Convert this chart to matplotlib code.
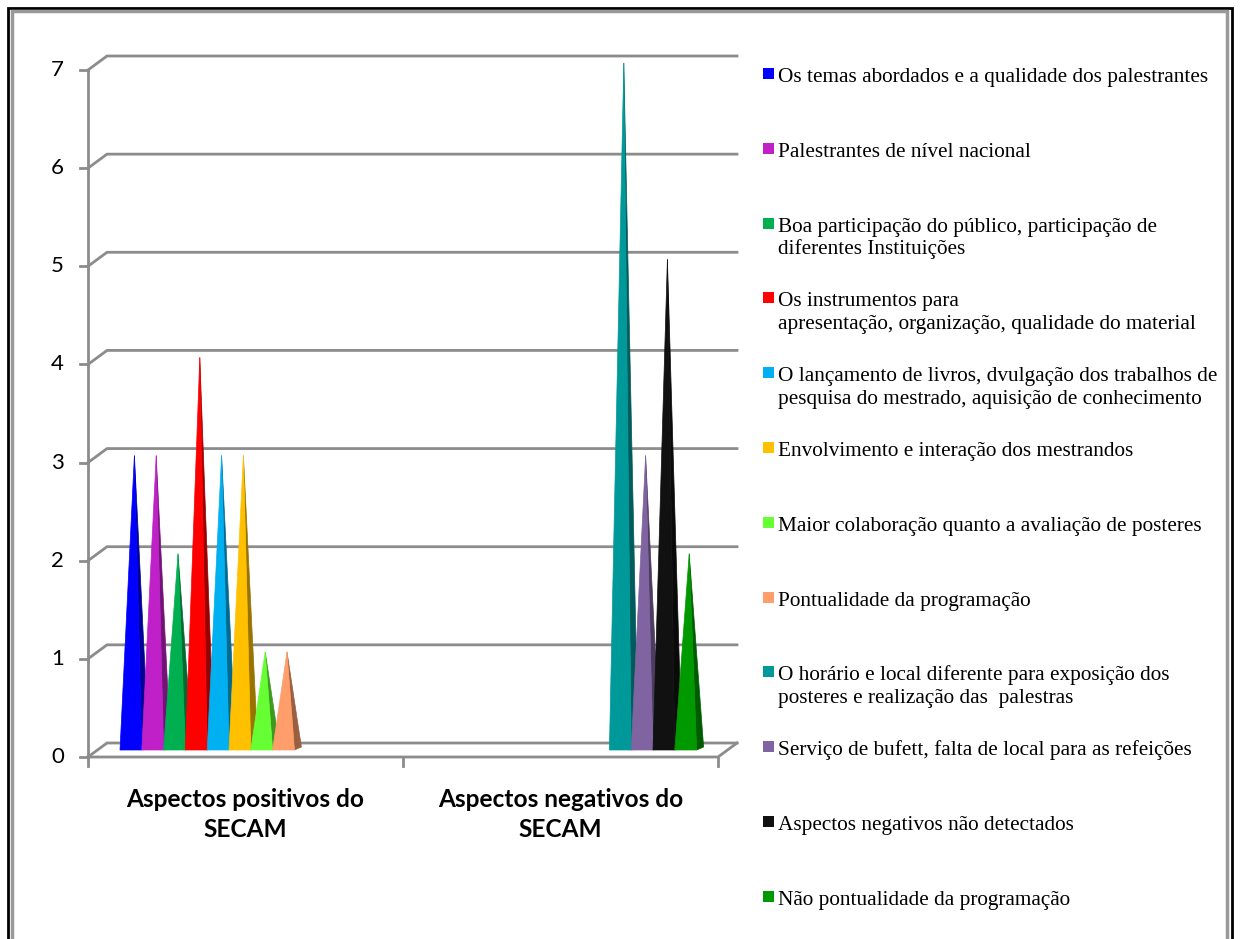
import matplotlib
matplotlib.use("Agg")
import matplotlib.pyplot as plt
from matplotlib.patches import Polygon, Rectangle
from matplotlib.colors import to_rgb
from matplotlib.lines import Line2D

# ---------------- data ----------------
categories = ["Aspectos positivos do\nSECAM", "Aspectos negativos do\nSECAM"]
series_labels = [
    "Os temas abordados e a qualidade dos palestrantes",
    "Palestrantes de nível nacional",
    "Boa participação do público, participação de\ndiferentes Instituições",
    "Os instrumentos para\napresentação, organização, qualidade do material",
    "O lançamento de livros, dvulgação dos trabalhos de\npesquisa do mestrado, aquisição de conhecimento",
    "Envolvimento e interação dos mestrandos",
    "Maior colaboração quanto a avaliação de posteres",
    "Pontualidade da programação",
    "O horário e local diferente para exposição dos\nposteres e realização das  palestras",
    "Serviço de bufett, falta de local para as refeições",
    "Aspectos negativos não detectados",
    "Não pontualidade da programação",
]
series_colors = ["#0000FF", "#C020C8", "#00B050", "#FF0000", "#00B0F0", "#FFC000",
                 "#66FF33", "#FF9E6A", "#009999", "#8064A2", "#111111", "#009900"]
# values per series: [positivos, negativos]
positivos = [3, 3, 2, 4, 3, 3, 1, 1, 0, 0, 0, 0]
negativos = [0, 0, 0, 0, 0, 0, 0, 0, 7, 3, 5, 2]
yticks = [0, 1, 2, 3, 4, 5, 6, 7]

# ---------------- figure ----------------
W, H = 1241, 939
fig = plt.figure(figsize=(W / 100, H / 100), dpi=100)
fig.patch.set_facecolor("white")

def fx(px):
    return px / W

def fy(py):
    return 1 - py / H

# front plot rectangle (pixels)
x_left, x_right = 88, 718
y_bot, y_top = 757, 70
ax = fig.add_axes([fx(x_left), fy(y_bot), fx(x_right) - fx(x_left), fy(y_top) - fy(y_bot)])
ax.set_xlim(0, 2)
ax.set_ylim(0, 7)
ax.axis("off")

pxx = (x_right - x_left) / 2.0        # px per x unit
pxy = (y_bot - y_top) / 7.0           # px per y unit
ddx = 19 / pxx                         # depth offset
ddy = 14 / pxy

grid_c = "#8C8C8C"
lw_grid = 2.0

# gridlines (side wall diagonals + back wall)
for v in yticks:
    ax.add_line(Line2D([0, ddx, 2 + ddx], [v, v + ddy, v + ddy], color=grid_c,
                       lw=lw_grid, clip_on=False, zorder=1, solid_joinstyle="miter"))
    ax.add_line(Line2D([-8 / pxx, 0], [v, v], color=grid_c, lw=lw_grid, clip_on=False, zorder=1))
    ax.text(-24 / pxx, v, str(v), ha="right", va="center", fontsize=16,
            family="Lato", color="black")

# vertical axis
ax.add_line(Line2D([0, 0], [0, 7], color=grid_c, lw=lw_grid, clip_on=False, zorder=1))
# floor front edge and right diagonal
ax.add_line(Line2D([0, 2, 2 + ddx], [0, 0, ddy], color=grid_c, lw=lw_grid,
                   clip_on=False, zorder=1, solid_joinstyle="miter"))
for c in [0, 1, 2]:
    ax.add_line(Line2D([c, c], [0, -9 / pxy], color=grid_c, lw=lw_grid, clip_on=False, zorder=1))

for i, lab in enumerate(categories):
    for j, line in enumerate(lab.split("\n")):
        ax.text(i + 0.5, -(50 + 30 * j) / pxy, line, ha="center", va="baseline",
                fontsize=17.6, family="Lato", fontweight="bold")

# ---------------- pyramids ----------------
nser = len(series_labels)
slot = 21.8 / pxx
first_x0 = 32 / pxx
ox = 7 / pxx
oy = 3 / pxy
base_y = 7 / pxy

def darker(c, f=0.6):
    r, g, b = to_rgb(c)
    return (r * f, g * f, b * f)

z = 3
for ci, vals in enumerate([positivos, negativos]):
    for s in range(nser):
        v = vals[s]
        if v <= 0:
            continue
        x0 = ci + first_x0 + s * slot
        x1 = x0 + slot
        apex = (x0 + slot / 2 + ox / 2, v + base_y)
        col = series_colors[s]
        side = Polygon([(x1, base_y), (x1 + ox, base_y + oy), apex], closed=True,
                       facecolor=darker(col), edgecolor=darker(col), lw=0.5,
                       zorder=z, clip_on=False)
        front = Polygon([(x0, base_y), (x1, base_y), apex], closed=True,
                        facecolor=col, edgecolor=col, lw=0.5, zorder=z + 1, clip_on=False)
        ax.add_patch(side)
        ax.add_patch(front)
        z += 2

# ---------------- legend ----------------
leg_base0 = 82
leg_pitch = 74.8
line_gap = 22.5
for k, (lab, col) in enumerate(zip(series_labels, series_colors)):
    b = leg_base0 + k * leg_pitch
    fig.patches.append(Rectangle((fx(763), fy(b - 3)), fx(11), 11 / H,
                                 transform=fig.transFigure, facecolor=col,
                                 edgecolor="none"))
    for j, line in enumerate(lab.split("\n")):
        fig.text(fx(778), fy(b + j * line_gap), line, ha="left", va="baseline",
                 fontsize=15.35, family="Liberation Serif", color="black")

# ---------------- border ----------------
fig.patches.append(Rectangle((fx(8), fy(960)), fx(1232 - 8), (960 - 8) / H,
                             transform=fig.transFigure, facecolor="none",
                             edgecolor="black", lw=2))
fig.patches.append(Rectangle((fx(12), fy(960)), fx(1227 - 12), (960 - 11) / H,
                             transform=fig.transFigure, facecolor="none",
                             edgecolor="#999999", lw=2.5))

fig.savefig("out.png", dpi=100, facecolor="white")
